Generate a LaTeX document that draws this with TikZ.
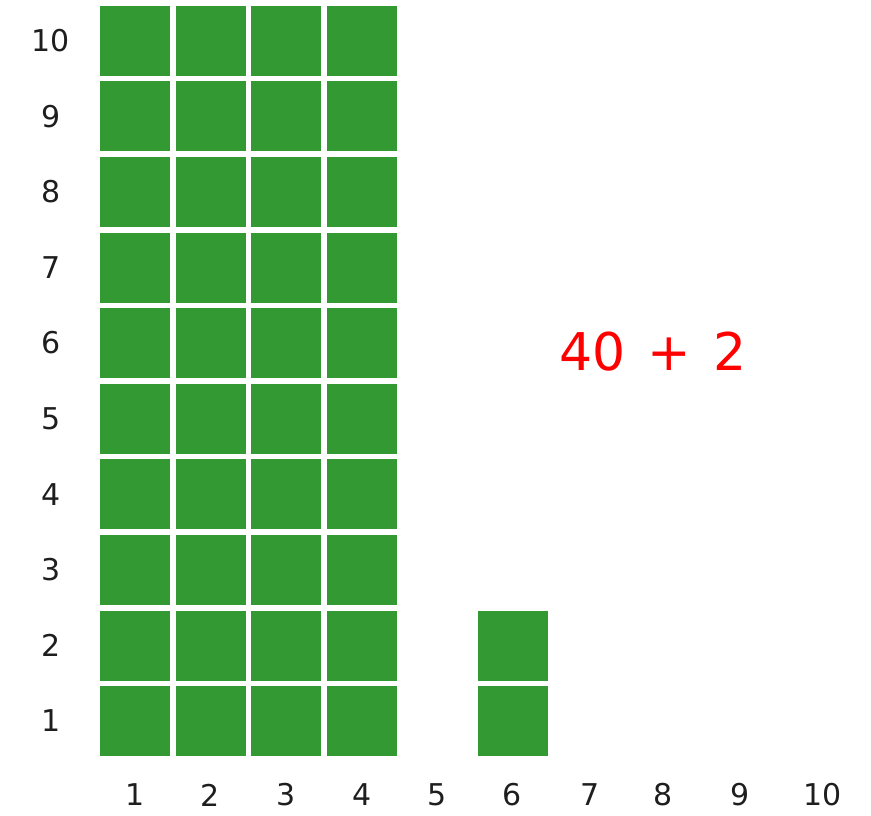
\documentclass[tikz,border=0pt]{standalone}
\usepackage{fontspec}
\setmainfont{DejaVu Sans}
\definecolor{sqgreen}{HTML}{339933}
\definecolor{ink}{HTML}{1E1E1E}
\definecolor{redink}{HTML}{FF0000}
\begin{document}
\begin{tikzpicture}[x=1pt,y=-1pt,
  sq/.style={fill=sqgreen,draw=none,minimum width=70pt,minimum height=70pt,inner sep=0pt,anchor=north west},
  lbl/.style={text=ink,font=\fontsize{30}{32}\selectfont,inner sep=0pt}]
\useasboundingbox (0,0) rectangle (871,815);
\foreach \c in {1,...,4}{
  \foreach \r in {1,...,10}{
    \node[sq] (s\c-\r) at ({100+(\c-1)*75.6},{5.5+(10-\r)*75.6}) {};
  }
}
\node[sq] (s6-1) at ({100+5*75.6},{5.5+9*75.6}) {};
\node[sq] (s6-2) at ({100+5*75.6},{5.5+8*75.6}) {};
\foreach \r in {1,...,10}{
  \node[lbl] (ry\r) at (51,{40.5+(10-\r)*75.6}) {\r};
}
\foreach \c/\xx in {1/135,2/210,3/286,4/362,5/437,6/512,7/590,8/663,9/740,10/823}{
  \node[lbl] (cx\c) at (\xx,795) {\c};
}
\node[text=redink,font=\fontsize{52}{56}\selectfont,inner sep=0pt] (sum) at (653,352) {40\hspace{6pt} + \hspace{6pt}2};
\end{tikzpicture}
\end{document}
